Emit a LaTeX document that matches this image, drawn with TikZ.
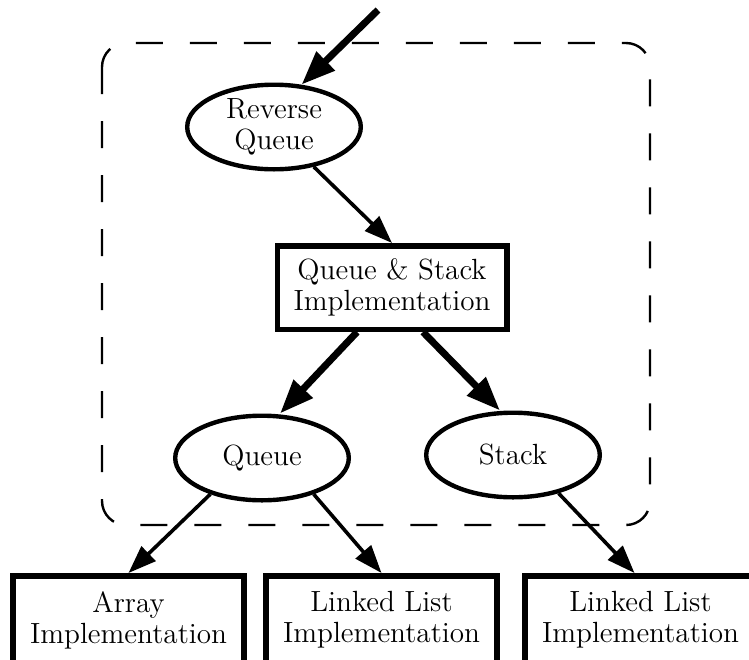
\documentclass[tikz,border=0pt]{standalone}
\usepackage{tikz}
\usetikzlibrary{
  arrows.meta,
  shapes.geometric,
}
\tikzset{
  taskOval/.style={
    ellipse, draw, line width=2.2pt, inner sep=0pt,
    minimum width=86.8pt, minimum height=42.3pt,
    align=center, font=\fontsize{14.6}{15.5}\selectfont,
  },
  implBox/.style={
    rectangle, draw, line width=2.75pt, inner sep=0pt,
    minimum width=114.75pt, minimum height=41.75pt,
    align=center, font=\fontsize{14.6}{15.5}\selectfont,
  },
  leafBox/.style={
    implBox, line width=3.2pt,
    minimum width=115.3pt, minimum height=43.8pt,
  },
  groupBox/.style={
    line width=1.2pt, rounded corners=12pt,
    dash pattern=on 13.5pt off 13.5pt,
  },
  arrowThin/.style={
    -{Triangle[length=14pt,width=10pt]}, line width=1.8pt,
  },
  arrowThick/.style={
    -{Triangle[length=17pt,width=12.5pt]}, line width=3.5pt,
  },
}
\begin{document}
\begin{tikzpicture}[x=0.5pt, y=-0.5pt]

% Frame
\clip (0,0) rectangle (749,659);
\fill[white] (0,0) rectangle (749,659);

% Dashed group
\draw[groupBox] (102,43) rectangle (650,525);

% Nodes
\node[taskOval] (rq) at (274,127) {Reverse\\Queue};
\node[implBox] (qs) at (392,287.5) {Queue \& Stack\\Implementation};
\node[taskOval] (queue) at (262,458) {Queue};
\node[taskOval] (stack) at (513,455) {Stack};
\node[leafBox] (arr) at (128.5,620) {Array\\Implementation};
\node[leafBox] (ll1) at (381.5,620) {Linked List\\Implementation};
\node[leafBox] (ll2) at (640.5,620) {Linked List\\Implementation};

% Edges
\coordinate (entry) at (378,10);
\draw[arrowThick] (entry) -- (rq.57);
\draw[arrowThin] (rq.-45) -- (qs.north);
\draw[arrowThick] ([xshift=-17.5pt]qs.south) -- ([xshift=9pt]queue.north);
\draw[arrowThick] ([xshift=15.5pt]qs.south) -- ([xshift=-6.5pt]stack.north);
\draw[arrowThin] (queue.215) -- (arr.north);
\draw[arrowThin] (queue.-35) -- (ll1.north);
\draw[arrowThin] (stack.-40) -- ([xshift=-3pt]ll2.north);

\end{tikzpicture}
\end{document}
